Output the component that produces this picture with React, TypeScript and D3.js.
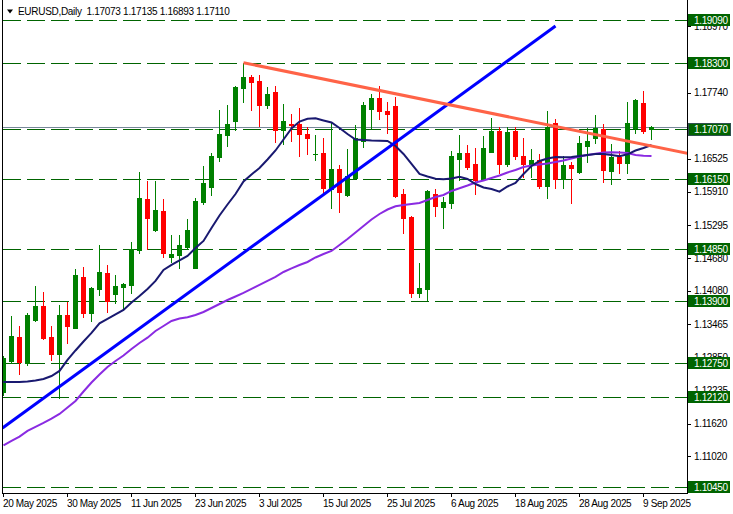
import React from 'react';
import * as d3 from 'd3';

const W = 733;
const H = 514;

// [open, high, low, close] per daily bar, 20 May 2025 .. 10 Sep 2025
const candles: number[][] = [
  [1.12208, 1.12874, 1.12153, 1.12837],
  [1.12787, 1.13620, 1.12745, 1.13250],
  [1.13231, 1.13435, 1.12535, 1.12769],
  [1.12739, 1.13670, 1.12708, 1.13633],
  [1.13540, 1.14169, 1.13522, 1.13799],
  [1.13799, 1.14052, 1.13194, 1.13213],
  [1.13231, 1.13435, 1.12800, 1.12905],
  [1.12905, 1.13818, 1.12091, 1.13633],
  [1.13633, 1.13879, 1.13109, 1.13435],
  [1.13398, 1.14484, 1.13386, 1.14373],
  [1.14330, 1.14526, 1.13601, 1.13675],
  [1.13675, 1.14150, 1.13522, 1.14132],
  [1.14114, 1.14928, 1.14003, 1.14422],
  [1.14404, 1.14558, 1.13694, 1.13892],
  [1.14021, 1.14373, 1.13849, 1.14169],
  [1.14156, 1.14215, 1.13725, 1.14206],
  [1.14188, 1.14989, 1.14034, 1.14854],
  [1.14835, 1.16284, 1.14785, 1.15791],
  [1.15779, 1.16117, 1.14854, 1.15433],
  [1.15205, 1.16117, 1.15192, 1.15575],
  [1.15557, 1.15779, 1.14711, 1.14774],
  [1.14711, 1.15113, 1.14607, 1.14761],
  [1.14743, 1.15113, 1.14496, 1.14928],
  [1.14885, 1.15409, 1.14854, 1.15205],
  [1.14508, 1.15803, 1.14496, 1.15742],
  [1.15729, 1.16389, 1.15686, 1.16075],
  [1.16006, 1.16624, 1.15853, 1.16574],
  [1.16561, 1.17425, 1.16482, 1.16981],
  [1.16963, 1.17518, 1.16765, 1.17166],
  [1.17222, 1.17860, 1.17055, 1.17851],
  [1.17838, 1.18300, 1.17579, 1.18036],
  [1.18036, 1.18073, 1.17425, 1.17949],
  [1.17962, 1.18073, 1.17135, 1.17518],
  [1.17518, 1.17856, 1.17468, 1.17721],
  [1.17764, 1.17869, 1.16839, 1.17055],
  [1.17055, 1.17536, 1.16790, 1.17222],
  [1.17166, 1.17351, 1.16852, 1.17148],
  [1.17166, 1.17456, 1.16580, 1.16975],
  [1.16981, 1.17116, 1.16611, 1.16901],
  [1.16602, 1.16963, 1.16509, 1.16611],
  [1.16624, 1.16913, 1.15895, 1.15976],
  [1.15964, 1.17179, 1.15606, 1.16328],
  [1.16334, 1.16408, 1.15544, 1.15914],
  [1.15853, 1.16698, 1.15834, 1.16204],
  [1.16173, 1.17148, 1.16160, 1.16901],
  [1.16852, 1.17567, 1.16746, 1.17518],
  [1.17444, 1.17721, 1.17086, 1.17641],
  [1.17641, 1.17869, 1.17259, 1.17412],
  [1.17407, 1.17579, 1.16994, 1.17351],
  [1.17499, 1.17671, 1.15821, 1.15834],
  [1.15871, 1.15958, 1.15155, 1.15433],
  [1.15451, 1.15470, 1.13971, 1.14034],
  [1.14034, 1.14600, 1.13960, 1.14138],
  [1.14108, 1.15945, 1.13910, 1.15927],
  [1.15871, 1.15964, 1.15464, 1.15655],
  [1.15636, 1.15821, 1.15248, 1.15723],
  [1.15710, 1.16667, 1.15606, 1.16574],
  [1.16519, 1.16963, 1.16130, 1.16635],
  [1.16635, 1.16778, 1.16334, 1.16376],
  [1.16426, 1.16716, 1.15865, 1.16130],
  [1.16143, 1.16944, 1.16130, 1.16722],
  [1.16654, 1.17271, 1.16639, 1.17042],
  [1.17042, 1.17116, 1.16265, 1.16426],
  [1.16426, 1.17116, 1.16395, 1.17024],
  [1.17042, 1.17116, 1.16519, 1.16574],
  [1.16574, 1.16901, 1.16191, 1.16426],
  [1.16426, 1.16704, 1.16191, 1.16500],
  [1.16500, 1.16605, 1.15976, 1.16025],
  [1.16025, 1.17407, 1.15791, 1.17116],
  [1.17179, 1.17259, 1.15988, 1.16149],
  [1.16149, 1.16574, 1.15988, 1.16408],
  [1.16408, 1.16457, 1.15710, 1.16346],
  [1.16284, 1.16950, 1.16254, 1.16809],
  [1.16759, 1.17086, 1.16469, 1.16852],
  [1.16901, 1.17333, 1.16809, 1.17086],
  [1.17074, 1.17160, 1.16099, 1.16315],
  [1.16297, 1.16790, 1.16050, 1.16561],
  [1.16561, 1.16667, 1.16265, 1.16450],
  [1.16450, 1.17567, 1.16254, 1.17179],
  [1.17092, 1.17628, 1.17005, 1.17610],
  [1.17549, 1.17776, 1.16994, 1.17042],
  [1.17073, 1.17135, 1.16893, 1.17110],
];

// fast moving average (navy)
const maFast: number[] = [
  1.12393, 1.12393, 1.12393, 1.12402, 1.12421, 1.12449, 1.12504, 1.12597, 1.12800, 1.12976,
  1.13142, 1.13300, 1.13479, 1.13559, 1.13642, 1.13725, 1.13864, 1.13984, 1.14114, 1.14262,
  1.14465, 1.14558, 1.14641, 1.14724, 1.14872, 1.15002, 1.15242, 1.15473, 1.15677, 1.15871,
  1.16102, 1.16232, 1.16352, 1.16509, 1.16676, 1.16879, 1.17083, 1.17212, 1.17264, 1.17271,
  1.17231, 1.17194, 1.17092, 1.16981, 1.16879, 1.16870, 1.16861, 1.16857, 1.16852, 1.16759,
  1.16611, 1.16426, 1.16241, 1.16195, 1.16154, 1.16143, 1.16158, 1.16191, 1.16149, 1.16056,
  1.15991, 1.15964, 1.15914, 1.16010, 1.16075, 1.16241, 1.16389, 1.16482, 1.16528, 1.16556,
  1.16550, 1.16556, 1.16574, 1.16593, 1.16611, 1.16611, 1.16593, 1.16568, 1.16605, 1.16676,
  1.16722, 1.16778,
];

// slow moving average (purple)
const maSlow: number[] = [
  1.11218, 1.11302, 1.11381, 1.11487, 1.11561, 1.11635, 1.11714, 1.11801, 1.11921, 1.12042,
  1.12217, 1.12384, 1.12532, 1.12671, 1.12782, 1.12883, 1.13004, 1.13115, 1.13213, 1.13337,
  1.13429, 1.13522, 1.13568, 1.13590, 1.13633, 1.13688, 1.13762, 1.13836, 1.13910, 1.13975,
  1.14040, 1.14114, 1.14188, 1.14262, 1.14336, 1.14428, 1.14496, 1.14558, 1.14613, 1.14696,
  1.14761, 1.14817, 1.14928, 1.15039, 1.15159, 1.15279, 1.15399, 1.15501, 1.15584, 1.15643,
  1.15668, 1.15686, 1.15705, 1.15760, 1.15816, 1.15853, 1.15927, 1.15976, 1.16028, 1.16084,
  1.16121, 1.16167, 1.16213, 1.16269, 1.16315, 1.16371, 1.16398, 1.16417, 1.16435, 1.16463,
  1.16491, 1.16528, 1.16565, 1.16593, 1.16617, 1.16639, 1.16642, 1.16639, 1.16630, 1.16593,
  1.16580, 1.16574,
];

const levels: number[] = [1.19090, 1.18300, 1.17070, 1.16150, 1.14850, 1.13900, 1.12750, 1.12120, 1.10450];
const priceTicks: number[] = [
  1.18970, 1.17740, 1.16525, 1.15910, 1.15295, 1.14680,
  1.14080, 1.13465, 1.12850, 1.12235, 1.11620, 1.11020,
];
const dateLabels: string[] = [
  '20 May 2025', '30 May 2025', '11 Jun 2025', '23 Jun 2025', '3 Jul 2025', '15 Jul 2025',
  '25 Jul 2025', '6 Aug 2025', '18 Aug 2025', '28 Aug 2025', '9 Sep 2025',
];
const dateIndex: number[] = [0, 8, 16, 24, 32, 40, 48, 56, 64, 72, 80];
const currentPrice = 1.17110;
const titleText = 'EURUSD,Daily  1.17073 1.17135 1.16893 1.17110';
// trend lines: [barIndex, price]
const blueTrend: number[][] = [[-0.125, 1.11542], [69, 1.18979]];
const redTrend: number[][] = [[30, 1.18300], [80, 1.16788]];

const FONT = '"Liberation Sans", Arial, sans-serif';
const GREEN = '#008000';
const RED = '#FF0000';
const LEVEL = '#006400';

export default function App() {
  const plotL = 2.5;
  const plotR = 687.5;
  const plotB = 493.5;
  const x = d3.scaleLinear().domain([0, 81]).range([3.5, 651.5]);
  const y = d3.scaleLinear().domain([1.1045, 1.1909]).range([487, 20]);
  const py = (v: number) => Math.round(y(v)) + 0.5;

  const lineGen = d3
    .line<number>()
    .x((_, i) => x(i))
    .y((d) => y(d));

  // extend red trendline to the right edge (ray)
  const rx1 = x(redTrend[0][0]);
  const ry1 = y(redTrend[0][1]);
  const rx2 = x(redTrend[1][0]);
  const ry2 = y(redTrend[1][1]);
  const slope = (ry2 - ry1) / (rx2 - rx1);
  const rEndY = ry1 + slope * (plotR - rx1);

  return (
    <svg
      width={W}
      height={H}
      style={{ position: 'absolute', left: 0, top: 0, background: '#fff' }}
      fontFamily={FONT}
    >
      <defs>
        <clipPath id="plot">
          <rect x={3} y={0} width={684} height={493} />
        </clipPath>
      </defs>
      <rect x={0} y={0} width={W} height={H} fill="#fff" />

      <g clipPath="url(#plot)">
        {levels.map((v) => (
          <line
            key={'lv' + v}
            x1={plotL}
            x2={plotR}
            y1={py(v)}
            y2={py(v)}
            stroke={LEVEL}
            strokeWidth={1}
            strokeDasharray="18 6"
            shapeRendering="crispEdges"
          />
        ))}
        <line
          x1={plotL}
          x2={plotR}
          y1={py(currentPrice)}
          y2={py(currentPrice)}
          stroke="#778899"
          strokeWidth={1}
          shapeRendering="crispEdges"
        />

        {candles.map((c, i) => {
          const [o, h, l, cl] = c;
          const up = cl >= o;
          const col = up ? GREEN : RED;
          const cx = x(i);
          const top = Math.round(y(Math.max(o, cl)));
          const bot = Math.round(y(Math.min(o, cl)));
          const hi = Math.round(y(h));
          const lo = Math.round(y(l));
          return (
            <g key={'c' + i} shapeRendering="crispEdges">
              <rect x={cx - 0.5} y={hi} width={1} height={Math.max(1, lo - hi + 1)} fill={col} />
              <rect x={cx - 2.5} y={top} width={5} height={Math.max(1, bot - top + 1)} fill={col} />
            </g>
          );
        })}

        <path d={lineGen(maSlow) || ''} fill="none" stroke="#8A2BE2" strokeWidth={2} />
        <path d={lineGen(maFast) || ''} fill="none" stroke="#191970" strokeWidth={2} />

        <line
          x1={x(blueTrend[0][0])}
          y1={y(blueTrend[0][1])}
          x2={x(blueTrend[1][0])}
          y2={y(blueTrend[1][1])}
          stroke="#0000FF"
          strokeWidth={3}
        />
        <line x1={rx1} y1={ry1} x2={plotR} y2={rEndY} stroke="#FF6347" strokeWidth={3} />
      </g>

      {/* frame */}
      <line x1={plotL} x2={plotL} y1={0} y2={plotB} stroke="#000" shapeRendering="crispEdges" />
      <line x1={plotR} x2={plotR} y1={0} y2={plotB} stroke="#000" shapeRendering="crispEdges" />
      <line x1={plotL} x2={plotR} y1={plotB} y2={plotB} stroke="#000" shapeRendering="crispEdges" />

      {/* price axis */}
      {priceTicks.map((v) => (
        <g key={'pt' + v}>
          <line x1={plotR} x2={691} y1={py(v)} y2={py(v)} stroke="#000" shapeRendering="crispEdges" />
          <text x={694} y={y(v) + 3.5} fontSize={10} letterSpacing={-0.35} fill="#000">
            {v.toFixed(5)}
          </text>
        </g>
      ))}
      {levels.map((v) => (
        <g key={'lb' + v}>
          <rect
            x={688}
            y={Math.round(y(v)) - 6}
            width={42}
            height={12}
            fill={LEVEL}
            stroke={v === 1.1707 ? '#2F4F4F' : 'none'}
            shapeRendering="crispEdges"
          />
          <text x={694} y={Math.round(y(v)) + 4} fontSize={10} letterSpacing={-0.35} fill="#fff">
            {v.toFixed(5)}
          </text>
        </g>
      ))}

      {/* time axis */}
      {dateIndex.map((idx, k) => (
        <g key={'dt' + idx}>
          <line x1={x(idx)} x2={x(idx)} y1={plotB} y2={497} stroke="#000" shapeRendering="crispEdges" />
          <text x={x(idx) - 0.5} y={507} fontSize={10} letterSpacing={-0.35} fill="#000">
            {dateLabels[k]}
          </text>
        </g>
      ))}

      {/* title */}
      <polygon points="7,9.5 13,9.5 10,13.5" fill="#000" />
      <text x={18} y={15} fontSize={10} letterSpacing={-0.3} fill="#000" style={{ whiteSpace: 'pre' }}>
        {titleText}
      </text>
    </svg>
  );
}
